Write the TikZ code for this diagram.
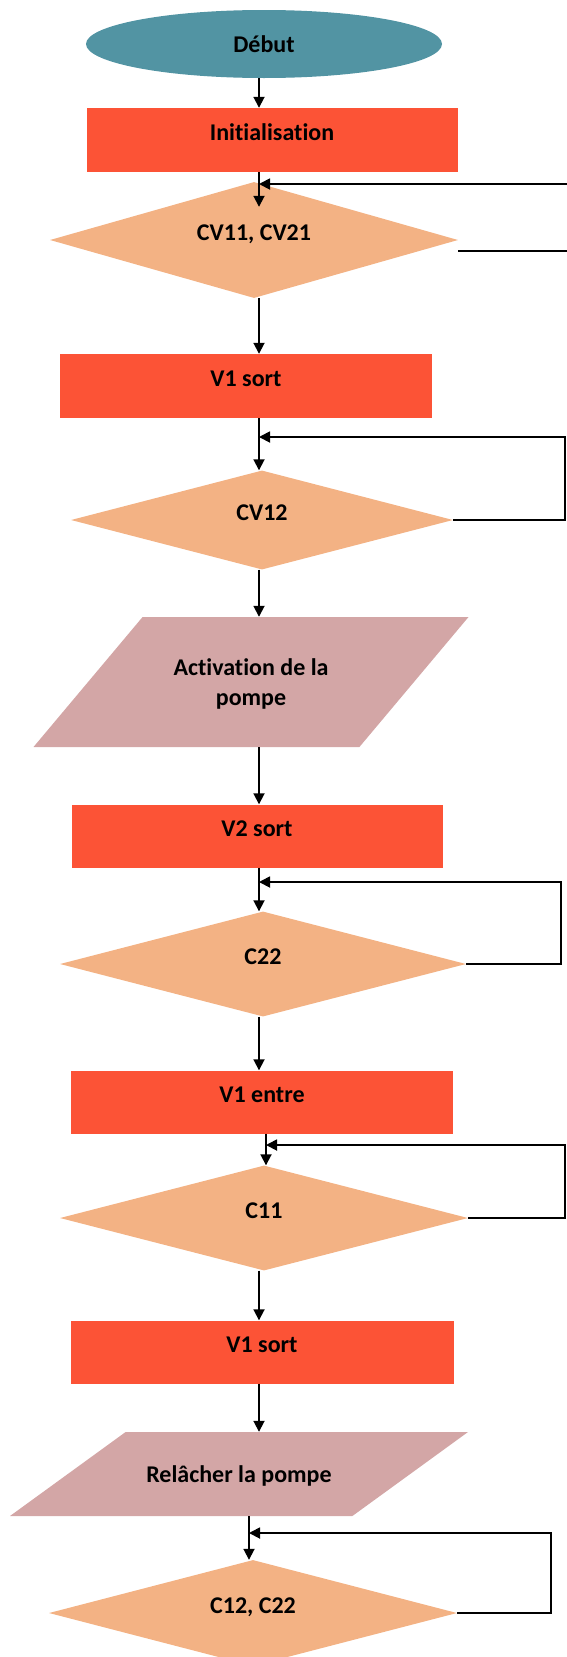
\documentclass[tikz,border=0pt]{standalone}
\usepackage{fontspec}
\setmainfont{Carlito}[Ligatures=NoCommon]
\usetikzlibrary{shapes.geometric,arrows.meta,calc}

\definecolor{bleu}{RGB}{82,148,163}
\definecolor{rouge}{RGB}{252,83,54}
\definecolor{peche}{RGB}{243,178,132}
\definecolor{rose}{RGB}{211,166,166}

\tikzset{
    bloc/.style={rectangle, fill=rouge, inner sep=0pt, text height=12pt, text depth=12pt},
    test/.style={diamond, fill=peche, aspect=3.5, inner sep=0pt, text height=12pt, text depth=12pt},
    entree/.style={trapezium, fill=rose, trapezium stretches body, inner sep=0pt, align=center},
    fleche/.style={-{Triangle[length=11pt,width=11pt]}, line width=1.8pt},
}

\begin{document}
\begin{tikzpicture}[x=1pt, y=-1pt, font=\fontsize{24}{30}\selectfont\bfseries]
        \useasboundingbox (0,0) rectangle (566,1657);

        \node[ellipse, fill=bleu, inner sep=0pt, minimum width=356pt, minimum height=68pt] (debut) at (264,44) {Début};
        \node[bloc, minimum width=371pt, minimum height=64pt] (init) at (272,140) {Initialisation};
        \node[test, minimum width=408pt, minimum height=116pt] (cv1) at (254,240) {CV11, CV21};
        \node[bloc, minimum width=372pt, minimum height=64pt] (v1) at (246,386) {V1 sort};
        \node[test, minimum width=382pt, minimum height=99pt] (cv2) at (262,520) {CV12};
        \node[entree, text height=88pt, text depth=42pt, minimum width=435pt, trapezium left angle=50, trapezium right angle=130] (pompe) at (251,682) {Activation de la\\pompe};
        \node[bloc, minimum width=371pt, minimum height=63pt] (v2) at (257,836) {V2 sort};
        \node[test, minimum width=406pt, minimum height=105pt] (c22) at (263,964) {C22};
        \node[bloc, minimum width=382pt, minimum height=63pt] (v1e) at (262,1102) {V1 entre};
        \node[test, minimum width=408pt, minimum height=105pt] (c11) at (264,1218) {C11};
        \node[bloc, minimum width=383pt, minimum height=63pt] (v1s) at (262,1352) {V1 sort};
        \node[entree, text height=50pt, text depth=34pt, minimum width=458pt, trapezium left angle=36, trapezium right angle=144] (relache) at (239,1474) {Relâcher la pompe};
        \node[test, minimum width=408pt, minimum height=106pt] (c12) at (253,1613) {C12, C22};

        \coordinate (axe) at (259,0);
        \coordinate (axe2) at (266,0);
        \coordinate (axe3) at (249,0);
        \coordinate (r1) at (575,184);
        \coordinate (r2) at (565,437);
        \coordinate (r3) at (561,882);
        \coordinate (r4) at (565,1145);
        \coordinate (r5) at (551,1533);

        \draw[fleche] (debut.south -| axe) -- (init.north -| axe);
        \draw[fleche] (init.south -| axe) -- ($(cv1.north -| axe)+(0,25)$);
        \draw[fleche] (cv1.south -| axe) -- (v1.north -| axe);
        \draw[fleche] (v1.south -| axe) -- (cv2.north -| axe);
        \draw[fleche] (cv2.south -| axe) -- (pompe.north -| axe);
        \draw[fleche] (pompe.south -| axe) -- (v2.north -| axe);
        \draw[fleche] (v2.south -| axe) -- (c22.north -| axe);
        \draw[fleche] (c22.south -| axe) -- (v1e.north -| axe);
        \draw[fleche] (v1e.south -| axe2) -- (c11.north -| axe2);
        \draw[fleche] (c11.south -| axe) -- (v1s.north -| axe);
        \draw[fleche] (v1s.south -| axe) -- (relache.north -| axe);
        \draw[fleche] (relache.south -| axe3) -- (c12.north -| axe3);

        \draw[fleche] ([yshift=-11pt]cv1.east) -| (r1) -- (r1 -| axe);
        \draw[fleche] (cv2.east) -| (r2) -- (r2 -| axe);
        \draw[fleche] (c22.east) -| (r3) -- (r3 -| axe);
        \draw[fleche] (c11.east) -| (r4) -- (r4 -| axe2);
        \draw[fleche] (c12.east) -| (r5) -- (r5 -| axe3);
    \end{tikzpicture}
\end{document}
